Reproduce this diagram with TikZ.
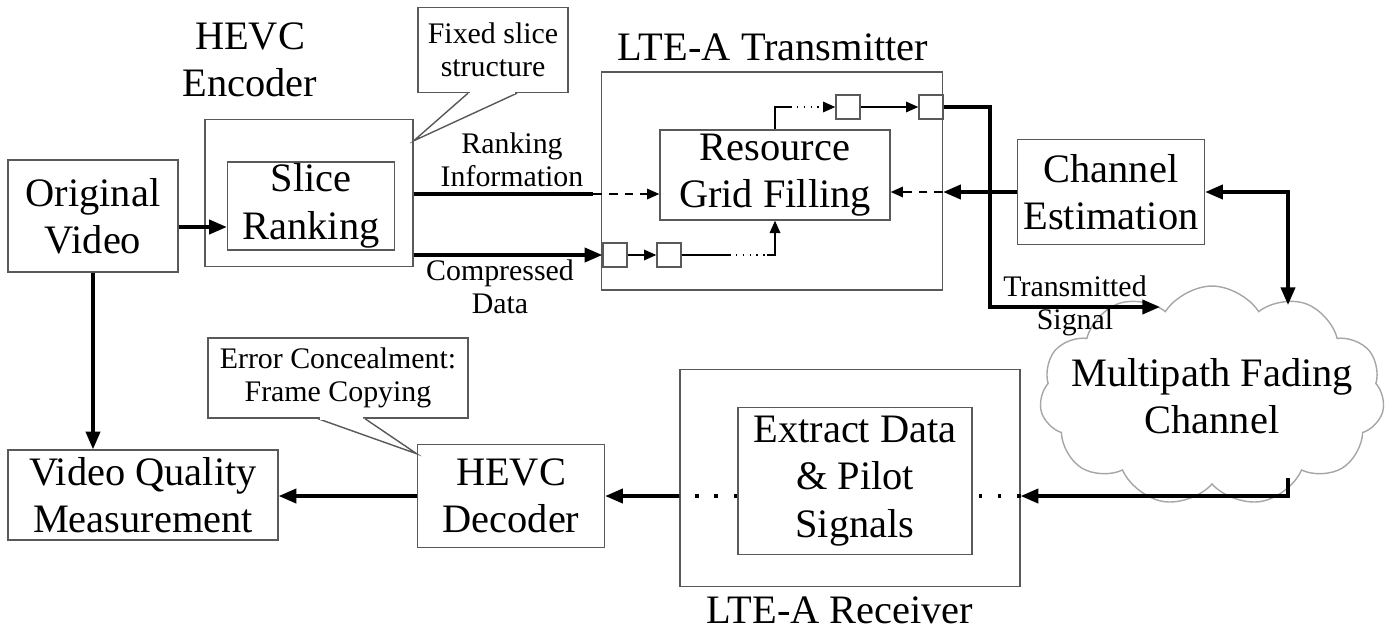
\documentclass[tikz,border=0pt]{standalone}
\usepackage{fontspec}
\setmainfont{Liberation Serif}
\usetikzlibrary{shapes}
\usetikzlibrary{shapes.symbols}
\usetikzlibrary{positioning}
\usetikzlibrary{arrows.meta}
\newcommand{\blkfont}{\fontsize{23}{27}\selectfont}
\newcommand{\lblfont}{\fontsize{17}{19}\selectfont}
\tikzset{
    blockbox/.style = {rectangle, line width=0.8pt, draw=black!65, fill=white, align=center, font=\blkfont, inner sep=1pt},
    sqbox/.style = {rectangle, line width=0.8pt, draw=black!65, fill=white, minimum size=0.48cm, inner sep=0pt},
    notebox/.style = {rectangle, line width=0.8pt, draw=black!65, fill=white, align=center, font=\lblfont},
    notept/.style = {line width=0.8pt, draw=black!65, fill=white},
    cloudbox/.style = {cloud, cloud puffs=11, cloud puff arc=115, cloud ignores aspect, inner sep=0pt, line width=0.8pt, draw=black!35, minimum width=6.9cm, minimum height=4.4cm},
    biglbl/.style = {align=center, font=\blkfont, inner sep=0pt},
    smlbl/.style = {align=center, font=\lblfont, inner sep=0pt},
    edgen/.style = {-, line width=2pt, black},
    edgea/.style = {-{Triangle[length=10pt,width=8pt]}, line width=2pt, black},
    edgead/.style = {{Triangle[length=10pt,width=8pt]}-{Triangle[length=10pt,width=8pt]}, line width=2pt, black},
    edged/.style = {-{Triangle[length=7pt,width=6pt]}, line width=0.9pt, black, dash pattern=on 5pt off 4pt}, % dashed
    edget/.style = {-, line width=0.9pt, black},
    edgeta/.style = {-{Triangle[length=7pt,width=6pt]}, line width=0.9pt, black},
    edgedot/.style = {line width=0.9pt, black, dash pattern=on 0.9pt off 3pt}, % dotted
    edgerx/.style = {line width=2pt, black, dash pattern=on 2pt off 9pt} % sparse dots
}

\begin{document}
\begin{tikzpicture}[x=0.02cm, y=-0.02cm]
\useasboundingbox (0,0) rectangle (1395,633);

% blocks
\node[blockbox, minimum width=3.40cm, minimum height=2.24cm] at (  93, 216) (orig) {Original\\Video};
\node[blockbox, minimum width=4.16cm, minimum height=2.94cm] at ( 309, 193) (enc) {};
\node[blockbox, minimum width=3.34cm, minimum height=1.74cm] at ( 311, 206) (slice) {Slice\\Ranking};
\node[blockbox, minimum width=6.82cm, minimum height=4.36cm] at ( 772, 181) (tx) {};
\node[blockbox, minimum width=4.60cm, minimum height=1.80cm] at ( 775, 175) (fill) {Resource\\Grid Filling};
\node[blockbox, minimum width=3.74cm, minimum height=2.10cm] at (1111, 192) (chest) {Channel\\Estimation};
\node[cloudbox] at (1212, 396) (cloud) {};
\node[biglbl] at (cloud.center) (cldlbl) {Multipath Fading\\Channel};
\node[blockbox, minimum width=6.80cm, minimum height=4.34cm] at ( 850, 478) (rx) {};
\node[blockbox, minimum width=4.68cm, minimum height=2.94cm] at ( 855, 481) (ex) {Extract Data\\\& Pilot\\Signals};
\node[blockbox, minimum width=3.74cm, minimum height=2.06cm] at ( 511, 496) (dec) {HEVC\\Decoder};
\node[blockbox, minimum width=5.40cm, minimum height=1.80cm] at ( 143, 495) (vqm) {Video Quality\\Measurement};

% small squares
\node[sqbox] at ( 615, 255) (sq1) {};
\node[sqbox] at ( 669, 255) (sq2) {};
\node[sqbox] at ( 848, 107) (sq3) {};
\node[sqbox] at ( 931, 107) (sq4) {};

% callouts
\node[notebox, minimum width=3.00cm, minimum height=1.70cm] at ( 493,  50) (fixnote) {Fixed slice\\structure};
\coordinate (fixtip) at ([yshift=-0.44cm]enc.north east);
\filldraw[notept] ([xshift=-0.50cm]fixnote.south) -- (fixtip) -- ([xshift=0.48cm]fixnote.south);
\draw[white, line width=1.4pt] ([xshift=-0.46cm]fixnote.south) -- ([xshift=0.44cm]fixnote.south);

\node[notebox, minimum width=5.20cm, minimum height=1.60cm] at ( 338, 378) (ecnote) {Error Concealment:\\Frame Copying};
\coordinate (ectip) at ([yshift=-0.2cm]dec.north west);
\filldraw[notept] ([xshift=-0.40cm]ecnote.south) -- (ectip) -- ([xshift=0.54cm]ecnote.south);
\draw[white, line width=1.4pt] ([xshift=-0.36cm]ecnote.south) -- ([xshift=0.50cm]ecnote.south);

% labels
\node[biglbl] at ( 250,  60) (enclbl) {HEVC\\Encoder};
\node[biglbl] at ( 773,  47) (txlbl) {LTE-A Transmitter};
\node[biglbl] at ( 840, 610) (rxlbl) {LTE-A Receiver};
\node[smlbl] at ( 512, 160) (rklbl) {Ranking\\Information};
\node[smlbl] at ( 500, 287) (cdlbl) {Compressed\\Data};
\node[smlbl] at (1075, 306) (tslbl) {Transmitted\\Signal};

% free ends
\coordinate (rk)     at ( 593, 194);
\coordinate (cd1)    at ( 729, 255);
\coordinate (cd2)    at ( 767, 255);
\coordinate (ct1)    at ( 790, 107);
\coordinate (ts)     at ( 990, 307);
\coordinate (tsend)  at (1160, 307);
\coordinate (cldtop) at (1288, 305);
\coordinate (cldbot) at (1288, 478);

% encoder side
\draw[edgea] ([yshift=-0.22cm]orig.east) -- ([yshift=-0.22cm]orig.east -| slice.west);
\draw[edgea] (orig.south) -- (orig.south |- vqm.north);
\draw[edgen] (enc.east |- rk) -- (rk);
\draw[edged] (rk) -- (fill.west |- rk);
\draw[edgea] (enc.east |- sq1) -- (sq1.west);

% transmitter
\draw[edgeta] (sq1) -- (sq2);
\draw[edget] (sq2.east) -- (cd1);
\draw[edgedot] (cd1) -- (cd2);
\draw[edgeta] (cd2) -| (fill.south);
\draw[edget] (fill.north) |- (ct1);
\draw[edgedot, -{Triangle[length=7pt,width=6pt]}] (ct1) -- (sq3.west);
\draw[edgeta] (sq3) -- (sq4);
\draw[edgea] (sq4.east) -| (ts) -- (tsend);
\draw[edgea] (chest.west) -- (tx.east |- chest.west);
\draw[edged] (tx.east |- chest.west) -- (fill.east |- chest.west);
\draw[edgead] (chest.east) -| (cldtop);

% receiver
\draw[edgea] (cldbot) |- (rx.east |- dec.east);
\draw[edgerx] (rx.east |- dec.east) -- (ex.east |- dec.east);
\draw[edgerx] (ex.west |- dec.east) -- (rx.west |- dec.east);
\draw[edgea] (rx.west |- dec.east) -- (dec.east);
\draw[edgea] (dec.west) -- (vqm.east |- dec.west);

\end{tikzpicture}
\end{document}
